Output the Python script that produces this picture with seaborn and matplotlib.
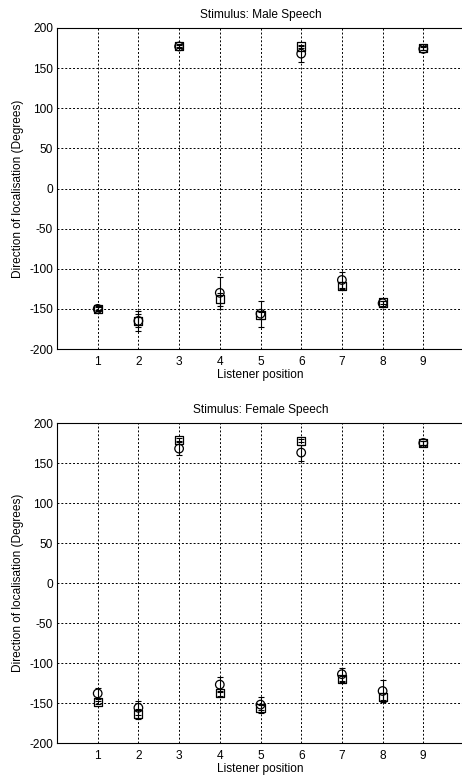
import numpy as np
import pandas as pd
import matplotlib
matplotlib.use('Agg')
import matplotlib.pyplot as plt
import seaborn as sns

# ── Data ──────────────────────────────────────────────────────────────────────
positions = [1, 2, 3, 4, 5, 6, 7, 8, 9]

# male speech
circ_male = [-150, -165, 177, -130, -156, 168, -114, -143, 174]
circ_male_err = [3, 12, 2, 20, 16, 10, 10, 3, 2]
sq_male = [-150, -165, 178, -138, -158, 177, -121, -142, 175]
sq_male_err = [2, 8, 2, 8, 4, 2, 4, 2, 2]

# female speech
circ_female = [-138, -156, 168, -127, -152, 163, -114, -135, 175]
circ_female_err = [7, 9, 8, 9, 10, 10, 8, 14, 2]
sq_female = [-149, -164, 179, -138, -156, 178, -120, -142, 175]
sq_female_err = [2, 6, 2, 3, 3, 2, 4, 4, 2]

yticks = [-200, -150, -100, -50, 0, 50, 100, 150, 200]

# ── Styling ───────────────────────────────────────────────────────────────────
sns.set_theme(style='white')
plt.rcParams['font.family'] = ['Liberation Sans', 'DejaVu Sans']
plt.rcParams.update({'axes.edgecolor': 'black', 'axes.linewidth': 0.8,
                     'xtick.color': 'black', 'ytick.color': 'black',
                     'text.color': 'black', 'axes.labelcolor': 'black',
                     'axes.unicode_minus': False})

W, H = 462, 775
FS = 8.6
fig = plt.figure(figsize=(W / 100, H / 100), dpi=100)
fig.patch.set_facecolor('white')


def panel(rect, title, circ, circ_err, sq, sq_err):
    ax = fig.add_axes(rect)
    ax.errorbar(positions, circ, yerr=circ_err, fmt='none', ecolor='black',
                elinewidth=0.8, capsize=2.5, capthick=0.8, zorder=2)
    ax.errorbar(positions, sq, yerr=sq_err, fmt='none', ecolor='black',
                elinewidth=0.8, capsize=2.5, capthick=0.8, zorder=2)
    sns.scatterplot(x=positions, y=sq, marker='s', s=34, ax=ax,
                    facecolor='none', edgecolor='black', linewidth=0.9, zorder=3)
    sns.scatterplot(x=positions, y=circ, marker='o', s=38, ax=ax,
                    facecolor='none', edgecolor='black', linewidth=0.9, zorder=3)
    ax.set_xlim(0, 10)
    ax.set_ylim(-200, 200)
    ax.set_xticks(positions)
    ax.set_yticks(yticks)
    ax.tick_params(labelsize=FS, direction='in', length=3, width=0.6, pad=3)
    ax.tick_params(axis='x', pad=5)
    ax.grid(True, color='black', linestyle=(0, (2, 2)), linewidth=0.7)
    ax.set_axisbelow(True)
    ax.set_title(title, fontsize=FS, pad=7)
    ax.set_xlabel('Listener position', fontsize=FS, labelpad=1)
    ax.set_ylabel('Direction of localisation (Degrees)', fontsize=FS, labelpad=4)
    return ax


left = 57 / W
width = (464 - 57) / W
panel([left, (H - 349) / H, width, 321 / H], 'Stimulus: Male Speech',
      circ_male, circ_male_err, sq_male, sq_male_err)
panel([left, (H - 743) / H, width, 320 / H], 'Stimulus: Female Speech',
      circ_female, circ_female_err, sq_female, sq_female_err)

fig.savefig('out.png', dpi=100)
